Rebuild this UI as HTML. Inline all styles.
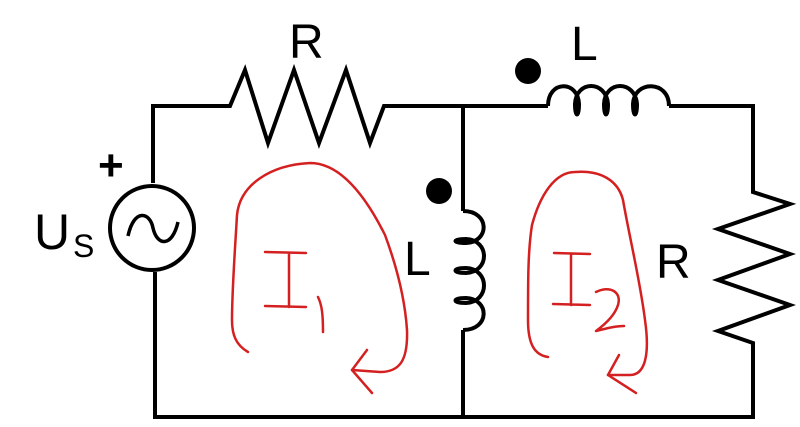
<!DOCTYPE html>
<html><head><meta charset="utf-8"><style>
html,body{margin:0;padding:0;background:#fff;}
svg{display:block;}
text{font-family:"Liberation Sans",sans-serif;fill:#000;}
</style></head><body>
<svg width="800" height="427" viewBox="0 0 800 427" xmlns="http://www.w3.org/2000/svg">
<g fill="none" stroke="#000" stroke-width="4" stroke-linejoin="miter">
<polyline points="153,183 153,106 230,106 245,70 268,143 294,70 319,143 346,70 370,143 384,106 463,106 548,106"/>
<line x1="155" y1="272" x2="155" y2="419"/>
<line x1="153" y1="417" x2="755" y2="417"/>
<circle cx="152" cy="228" r="42"/>
<path d="M128,236 C134,208 150,212 153,228 C157,246 172,248 178,222" stroke-width="3.5"/>
<line x1="463" y1="106" x2="463" y2="211"/>
<line x1="463" y1="330" x2="463" y2="419"/>
<path d="M463,211 C490,211 490,242 466,243 C452,243 452,239 466,239 C490,240 490,272 466,273 C452,273 452,268 466,268 C490,269 490,302 466,303 C452,303 452,298 466,298 C490,299 490,330 463,330"/>
<path d="M548,106 C548,80 578,80 579,104 C579,118 575,118 575,104 C576,80 606,80 608,104 C608,118 604,118 604,104 C605,80 635,80 637,104 C637,118 633,118 633,104 C634,80 669,80 669,106"/>
<polyline points="669,106 753,106 753,192 790,204 718,229 790,254 718,280 790,305 718,331 753,343 753,419"/>
</g>
<circle cx="439" cy="191" r="13" fill="#000"/>
<circle cx="528" cy="71" r="13" fill="#000"/>
<text x="289" y="58" font-size="48">R</text>
<text x="571" y="60" font-size="48">L</text>
<text x="404" y="275" font-size="48">L</text>
<text x="656" y="278" font-size="48">R</text>
<text x="98" y="180" font-size="44" font-weight="bold">+</text>
<text x="34" y="249" font-size="50">U</text>
<text x="73" y="257" font-size="32">S</text>
<g fill="none" stroke="#d42020" stroke-width="2.5" stroke-linecap="round" stroke-linejoin="round">
<path d="M248,352 C236,345 232,335 232,320 C232,290 235,250 237,215 C240,185 270,165 310,163 C340,163 365,195 385,235 C398,270 405,300 407,330 C408,360 400,372 380,372 L352,370"/>
<path d="M367,350 L352,370 L372,393"/>
<path d="M265,252 L306,253 M289,253 L289,307 M265,306 L306,307 M318,297 C322,305 323,315 323,332"/>
<path d="M548,357 C535,355 528,345 528,320 C528,280 528,250 532,225 C540,195 555,172 575,172 C600,170 618,180 623,200 C630,240 640,280 645,320 C650,355 645,375 630,375 L608,375"/>
<path d="M619,355 L608,375 L636,393"/>
<path d="M554,253 L590,254 M571,254 L571,305 M553,304 L590,305 M596,292 C610,285 622,292 618,305 C614,318 600,328 596,331 C608,328 616,326 624,326"/>
</g>
</svg>
</body></html>
